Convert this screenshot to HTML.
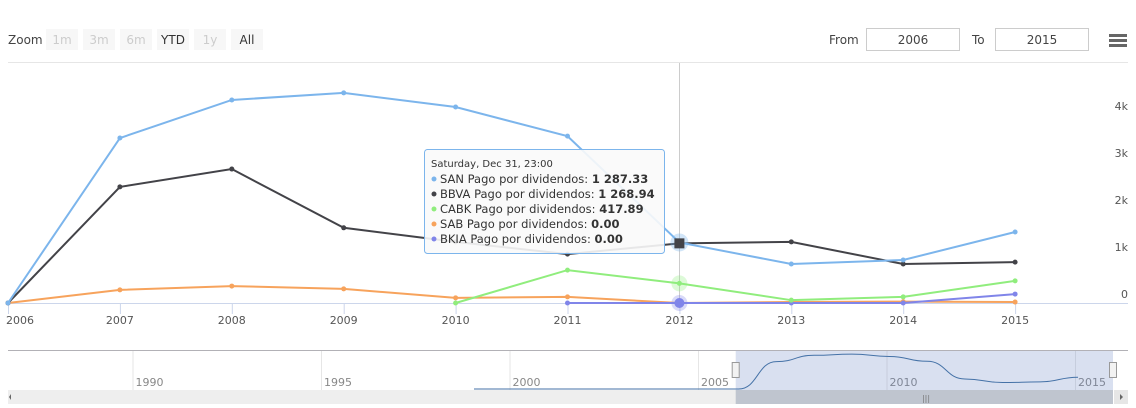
<!DOCTYPE html>
<html><head><meta charset="utf-8"><style>
body{margin:0;width:1136px;height:408px;overflow:hidden;background:#fff;font-family:"DejaVu Sans","Liberation Sans",sans-serif}
svg{display:block}
</style></head><body>
<svg id="c" width="1136" height="408" xmlns="http://www.w3.org/2000/svg">
<g font-size="12">
<text x="8" y="44" fill="#444">Zoom</text>
<rect x="46" y="29" width="32" height="21" fill="#f7f7f7"/><text x="62" y="44" text-anchor="middle" fill="#ccc">1m</text>
<rect x="83" y="29" width="32" height="21" fill="#f7f7f7"/><text x="99" y="44" text-anchor="middle" fill="#ccc">3m</text>
<rect x="120" y="29" width="32" height="21" fill="#f7f7f7"/><text x="136" y="44" text-anchor="middle" fill="#ccc">6m</text>
<rect x="157" y="29" width="32" height="21" fill="#f7f7f7"/><text x="173" y="44" text-anchor="middle" fill="#333">YTD</text>
<rect x="194" y="29" width="32" height="21" fill="#f7f7f7"/><text x="210" y="44" text-anchor="middle" fill="#ccc">1y</text>
<rect x="231" y="29" width="32" height="21" fill="#f7f7f7"/><text x="247" y="44" text-anchor="middle" fill="#333">All</text>
<text x="829" y="44" fill="#444">From</text>
<rect x="866.5" y="28.5" width="93" height="22" fill="#fff" stroke="#ccc"/><text x="913" y="44" text-anchor="middle" fill="#444">2006</text>
<text x="972" y="44" fill="#444">To</text>
<rect x="995.5" y="28.5" width="93" height="22" fill="#fff" stroke="#ccc"/><text x="1042" y="44" text-anchor="middle" fill="#444">2015</text>
<g fill="#666"><rect x="1109" y="34" width="18" height="3"/><rect x="1109" y="39" width="18" height="3"/><rect x="1109" y="44" width="18" height="3"/></g>
</g>
<line x1="8" y1="62.5" x2="1128" y2="62.5" stroke="#e6e6e6"/>
<g id="plot"></g>
<g id="nav"></g>
</svg>
<script>
const years=[2006,2007,2008,2009,2010,2011,2012,2013,2014,2015];
const san=[0,3510,4320,4470,4170,3550,1287.33,830,915,1510];
const bbva=[0,2470,2850,1600,1300,1040,1268.94,1300,830,870];
const cabk=[null,null,null,null,0,700,417.89,60,130,470];
const sab=[0,280,360,300,110,130,0,20,30,20];
const bkia=[null,null,null,null,null,0,0,0,0,190];
const yTicks=[0,1000,2000,3000,4000];
const yTickLabels=["0","1k","2k","3k","4k"];
const navYears=[1990,1995,2000,2005,2010,2015];
const NS="http://www.w3.org/2000/svg";
const X=y=>8+(y-2006)*111.9;
const Y=v=>303-v*0.047;
const NX=y=>701+(y-2005)*37.7;
const NY=v=>389-v*0.0078;
function mk(t,a,p){const e=document.createElementNS(NS,t);for(const k in a)e.setAttribute(k,a[k]);p.appendChild(e);return e;}
const plot=document.getElementById('plot');
mk('line',{x1:8,y1:303.5,x2:1128,y2:303.5,stroke:'#ccd6eb'},plot);
years.forEach(y=>{
 const t=mk('line',{x1:X(y)+0.5,y1:304,x2:X(y)+0.5,y2:314,stroke:'#ccd6eb'},plot);
 
 
 const l=mk('text',{x:X(y)+(y==2006?12:0),y:324,'text-anchor':'middle','font-size':11,fill:'#555'},plot);
 l.textContent=y;
 
 
});
yTicks.forEach((v,i)=>{
 const l=mk('text',{x:1128,y:Y(v)-5,'text-anchor':'end','font-size':11,fill:'#555'},plot);
 l.textContent=yTickLabels[i];
 
 
});
const ch=mk('line',{x1:679.5,y1:63,x2:679.5,y2:303,stroke:'#ccc'},plot);


const series=[
 {name:'sab',data:sab,color:'#f7a35c'},
 {name:'bkia',data:bkia,color:'#8085e9'},
 {name:'cabk',data:cabk,color:'#90ed7d'},
 {name:'bbva',data:bbva,color:'#434348'},
 {name:'san',data:san,color:'#7cb5ec'}];
series.forEach(s=>{
 const g=mk('g',{},plot);
 
 
 let d='';
 s.data.forEach((v,i)=>{if(v===null)return;d+=(d?'L':'M')+X(years[i])+','+Y(v);});
 mk('path',{d:d,fill:'none',stroke:s.color,'stroke-width':2},g);
 s.data.forEach((v,i)=>{if(v===null)return;const x=X(years[i]),y=Y(v);
  const p=mk('circle',{cx:x,cy:y,r:2.5,fill:s.color},g);
  
  
 });
});
const hi=6;
mk('circle',{cx:X(years[hi]),cy:Y(bkia[hi]),r:8,fill:'#8085e9','fill-opacity':0.3},plot);
mk('circle',{cx:X(years[hi]),cy:Y(bkia[hi]),r:5,fill:'#8085e9'},plot);
mk('circle',{cx:X(years[hi]),cy:Y(cabk[hi]),r:8,fill:'#90ed7d','fill-opacity':0.3},plot);
mk('circle',{cx:X(years[hi]),cy:Y(san[hi]),r:9,fill:'#7cb5ec','fill-opacity':0.35},plot);
mk('rect',{x:X(years[hi])-5,y:Y(bbva[hi])-5,width:10,height:10,fill:'#434348'},plot);
const tt=mk('g',{},plot);


mk('rect',{x:424.5,y:149.5,width:240,height:104,rx:3,fill:'#f9f9f9','fill-opacity':0.9,stroke:'#7cb5ec'},tt);
const tx=mk('text',{x:431,y:167,'font-size':10,fill:'#333'},tt);tx.textContent='Saturday, Dec 31, 23:00';
const rows=[['#7cb5ec','SAN',san[hi]],['#434348','BBVA',bbva[hi]],['#90ed7d','CABK',cabk[hi]],['#f7a35c','SAB',sab[hi]],['#8085e9','BKIA',bkia[hi]]];
function fmt(v){const s=v.toFixed(2);const [a,b]=s.split('.');return a.replace(/\B(?=(\d{3})+(?!\d))/g,' ')+'.'+b;}
rows.forEach((r,i)=>{const y=183+i*15;
 mk('circle',{cx:434,cy:y-4,r:2.5,fill:r[0]},tt);
 const t=mk('text',{x:440,y:y,'font-size':11.5,fill:'#333'},tt);
 t.textContent=r[1]+' Pago por dividendos: ';
 const b=mk('tspan',{'font-weight':'bold'},t);b.textContent=fmt(r[2]);
});
const nav=document.getElementById('nav');


mk('line',{x1:8,y1:350.5,x2:1128,y2:350.5,stroke:'#b2b1b6'},nav);
navYears.forEach(y=>{
 mk('line',{x1:NX(y)-2.5,y1:351,x2:NX(y)-2.5,y2:390,stroke:'#e6e6e6'},nav);
 const l=mk('text',{x:NX(y),y:386,'font-size':11,fill:'#888'},nav);l.textContent=y;
 
 
});
const sel=mk('rect',{x:NX(2006)-3,y:351,width:1113-(NX(2006)-3),height:39,fill:'#6685c2','fill-opacity':0.25},nav);


let nd='M474,389L'+NX(2006)+','+NY(0);
for(let i=1;i<years.length;i++){const x0=NX(years[i-1]),x1=NX(years[i]),y0=NY(san[i-1]),y1=NY(san[i]);const cx=(x0+x1)/2;nd+=`C${cx},${y0} ${cx},${y1} ${x1},${y1}`;}
mk('path',{d:nd,fill:'none',stroke:'#4572a7','stroke-width':1},nav);
[NX(2006)-3,1113].forEach(x=>{const h=mk('rect',{x:x-3.5,y:362.5,width:7,height:15,fill:'#f2f2f2',stroke:'#999'},nav);
 
 });
const sb=mk('rect',{x:8,y:390,width:1105,height:14,fill:'#eee'},nav);


mk('rect',{x:NX(2006)-3,y:390,width:1113-(NX(2006)-3),height:14,fill:'#bfc5cf'},nav);
mk('text',{x:926,y:401,'font-size':8,fill:'#777','text-anchor':'middle'},nav).textContent='|||';
mk('path',{d:'M11,394L11,400L9,397Z',fill:'#666'},nav);
mk('rect',{x:1114,y:390,width:14,height:14,fill:'#e6e6e6'},nav);
mk('path',{d:'M1120,394L1120,400L1123,397Z',fill:'#666'},nav);
</script>
</body></html>
